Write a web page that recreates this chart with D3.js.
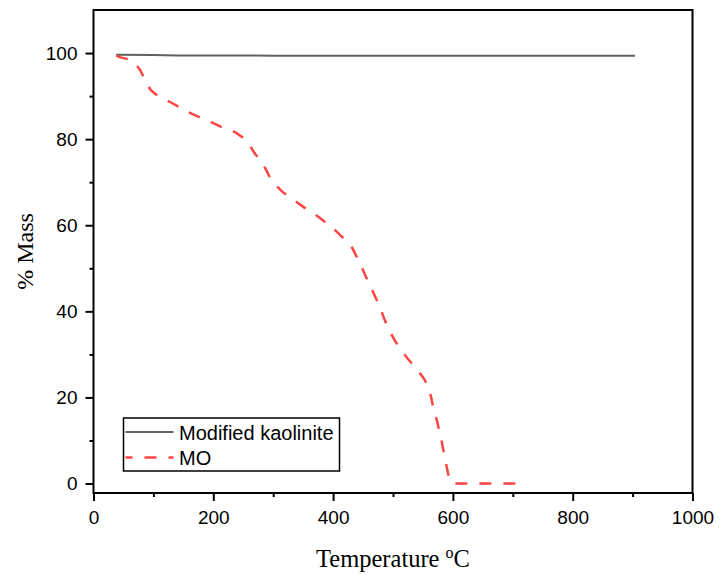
<!DOCTYPE html>
<html>
<head>
<meta charset="utf-8">
<script src="https://cdn.jsdelivr.net/npm/d3@7"></script>
<style>
  body { margin: 0; background: #fff; }
  svg { display: block; }
  .tk text { font-family: "Liberation Sans", Arial, sans-serif; font-size: 19px; fill: #000; }
  .tk line { stroke: #000; stroke-width: 2; }
</style>
</head>
<body>
<svg id="chart" width="721" height="576"></svg>
<script>
// 数据
var xTicks = [0, 200, 400, 600, 800, 1000];
var yTicks = [0, 20, 40, 60, 80, 100];
var xMinor = [100, 300, 500, 700, 900];
var yMinor = [10, 30, 50, 70, 90];

var kaolT = [38, 100, 140, 300, 600, 904];
var kaolM = [99.6, 99.55, 99.45, 99.4, 99.4, 99.4];

var moT = [38, 45, 60, 69, 78, 86, 95, 103, 115, 131, 145, 156, 170, 186, 200, 214, 228, 239, 250, 262,
  270, 281, 295, 305, 315, 328, 340, 352, 365, 377, 389, 400, 411, 422, 432, 439, 446, 453, 460, 467,
  474, 480, 485, 494, 504, 514, 524, 533, 543, 552, 560, 564, 568, 573, 577, 581, 584, 588, 593, 598, 660, 719];
var moM = [99.4, 99.0, 98.5, 97.7, 96.0, 93.8, 91.5, 90.5, 89.5, 88.4, 87.3, 86.4, 85.5, 84.5, 83.7, 82.8, 82.2, 81.4, 80.3, 78.3,
  76.5, 74.8, 71.0, 69.2, 67.8, 66.5, 65.3, 64.1, 63.0, 61.8, 60.5, 59.3, 57.8, 56.4, 54.7, 52.8, 50.8, 48.6, 46.5, 44.4,
  42.3, 40.3, 38.4, 35.5, 33.0, 31.0, 29.1, 27.6, 26.0, 24.3, 22.1, 19.8, 17.1, 14.8, 12.4, 10.0, 7.8, 5.0, 1.6, 0, 0, 0];

var seriesNames = ["Modified kaolinite", "MO"];
var seriesColors = ["#606060", "#ff4444"];

var svg = d3.select("#chart");

var x = d3.scaleLinear().domain([0, 1000]).range([93.5, 692.5]);
var y = d3.scaleLinear().domain([-2.2, 110]).range([493, 10]);

// 次刻度
svg.append("g").attr("class", "tk")
  .attr("transform", "translate(0," + y(-2.2) + ")")
  .call(d3.axisBottom(x).tickValues(xMinor).tickSize(4).tickFormat(""))
  .call(function(g){ g.select(".domain").remove(); });

svg.append("g").attr("class", "tk")
  .attr("transform", "translate(" + x(0) + ",0)")
  .call(d3.axisLeft(y).tickValues(yMinor).tickSize(4).tickFormat(""))
  .call(function(g){ g.select(".domain").remove(); });

// 主刻度
svg.append("g").attr("class", "tk")
  .attr("transform", "translate(0," + y(-2.2) + ")")
  .call(d3.axisBottom(x).tickValues(xTicks).tickSize(8).tickPadding(10).tickFormat(d3.format("d")))
  .call(function(g){ g.select(".domain").remove(); });

svg.append("g").attr("class", "tk")
  .attr("transform", "translate(" + x(0) + ",0)")
  .call(d3.axisLeft(y).tickValues(yTicks).tickSize(8).tickPadding(8).tickFormat(d3.format("d")))
  .call(function(g){ g.select(".domain").remove(); });

// 曲线
var line = d3.line()
  .x(function(d){ return x(d[0]); })
  .y(function(d){ return y(d[1]); });

svg.append("path")
  .datum(d3.zip(kaolT, kaolM))
  .attr("d", line)
  .attr("fill", "none")
  .attr("stroke", seriesColors[0])
  .attr("stroke-width", 2);

svg.append("path")
  .datum(d3.zip(moT, moM))
  .attr("d", line)
  .attr("fill", "none")
  .attr("stroke", seriesColors[1])
  .attr("stroke-width", 2.5)
  .attr("stroke-dasharray", "12,12");

// 边框
svg.append("rect")
  .attr("x", x(0))
  .attr("y", y(110))
  .attr("width", x(1000) - x(0))
  .attr("height", y(-2.2) - y(110))
  .attr("fill", "none")
  .attr("stroke", "#000")
  .attr("stroke-width", 2);

// 图例
var lg = svg.append("g").attr("transform", "translate(123.5,418)");
lg.append("rect")
  .attr("width", 216)
  .attr("height", 53)
  .attr("fill", "#fff")
  .attr("stroke", "#000")
  .attr("stroke-width", 1.5);

lg.selectAll("g.item")
  .data(seriesNames)
  .enter()
  .append("g")
  .attr("class", "item")
  .attr("transform", function(d, i){ return "translate(0," + (14 + i * 25.5) + ")"; })
  .each(function(d, i){
    var g = d3.select(this);
    g.append("line")
      .attr("x1", 2).attr("x2", 50)
      .attr("stroke", seriesColors[i])
      .attr("stroke-width", i == 1 ? 2.5 : 2)
      .attr("stroke-dasharray", i == 1 ? "12,12" : null)
      .attr("stroke-dashoffset", i == 1 ? 5 : 0);
    g.append("text")
      .attr("x", 55.5)
      .attr("y", 7.5)
      .attr("font-family", "Liberation Sans, Arial, sans-serif")
      .attr("font-size", 20)
      .text(d);
  });

// 坐标轴标题
var xt = svg.append("text")
  .attr("x", (x(0) + x(1000)) / 2)
  .attr("y", 566.5)
  .attr("text-anchor", "middle")
  .attr("font-family", "Liberation Serif, Times New Roman, serif")
  .attr("font-size", 24.5);
xt.append("tspan").text("Temperature ");
xt.append("tspan").attr("font-size", 16).attr("dy", -9).text("o");
xt.append("tspan").attr("dy", 9).text("C");

svg.append("text")
  .attr("transform", "translate(33," + ((y(110) + y(-2.2)) / 2) + ") rotate(-90)")
  .attr("text-anchor", "middle")
  .attr("font-family", "Liberation Serif, Times New Roman, serif")
  .attr("font-size", 24)
  .text("% Mass");
</script>
</body>
</html>
